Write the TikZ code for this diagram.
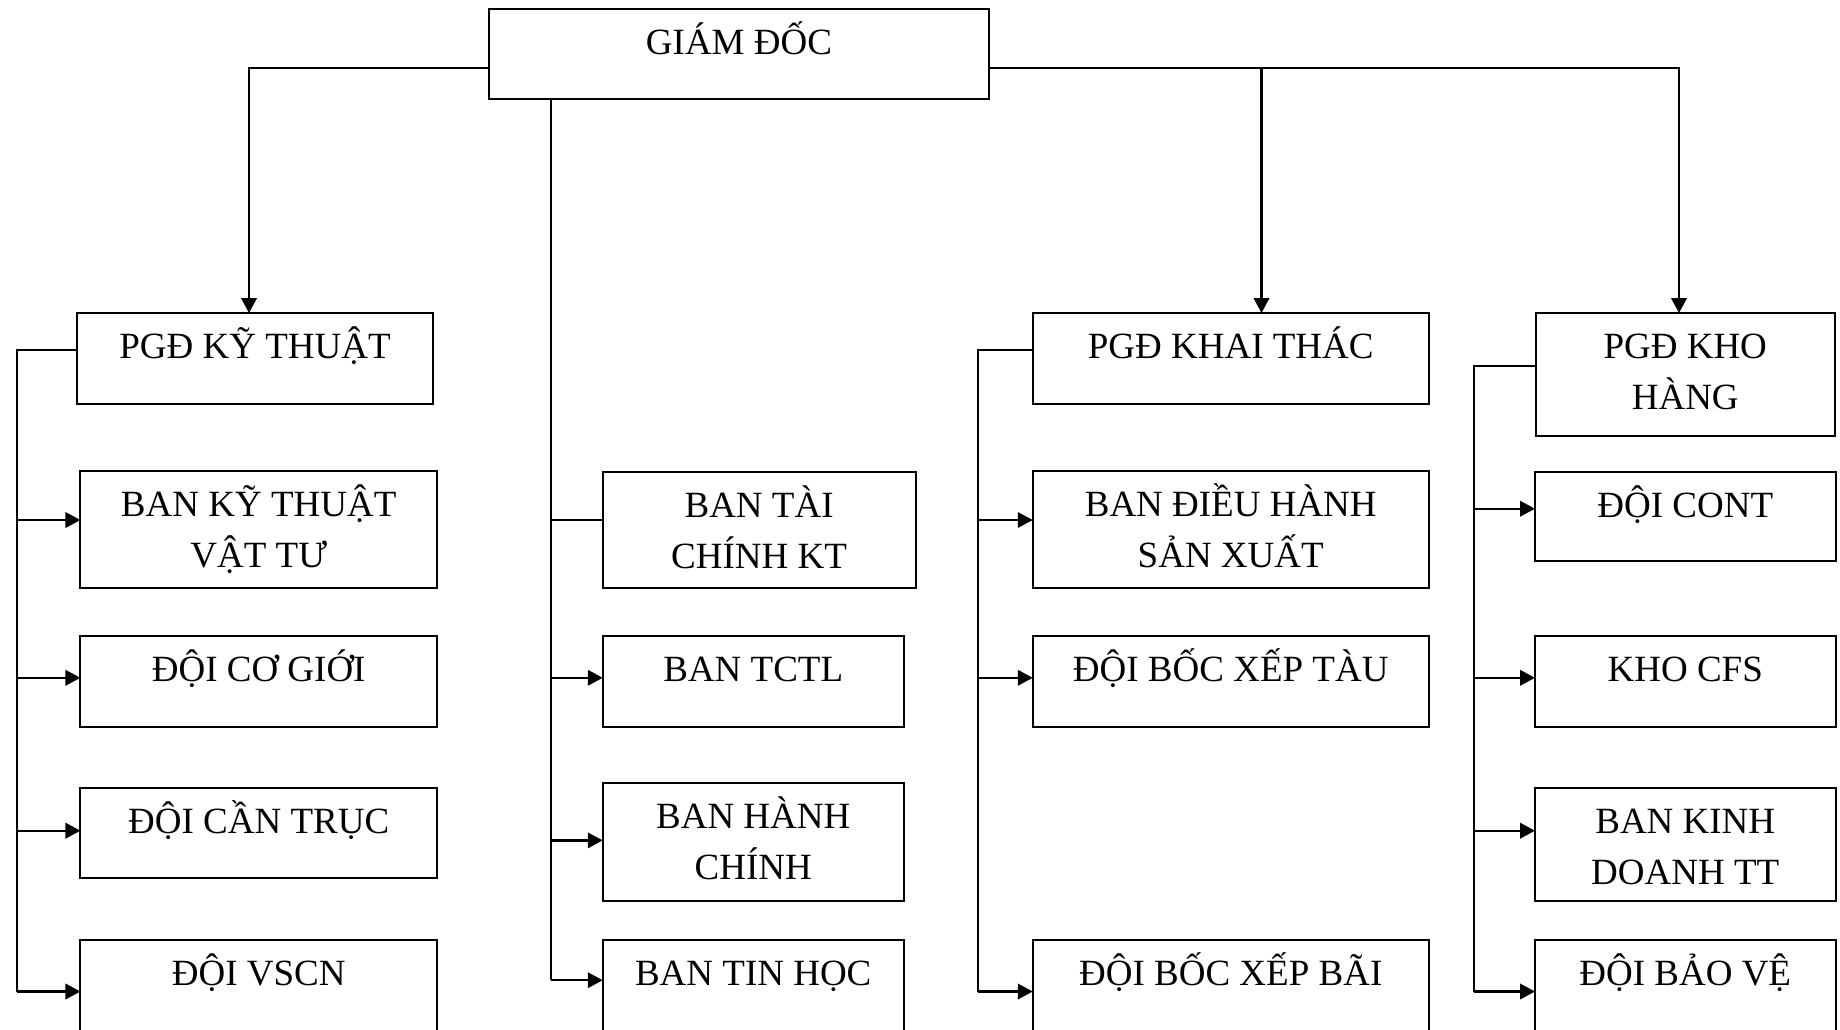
\documentclass[tikz,border=0pt]{standalone}
\usepackage{fontspec}
\setmainfont{Liberation Serif}
\usetikzlibrary{arrows.meta,calc}
\newcommand\twoline[2]{\begin{tabular}[t]{@{}c@{}}#1\\#2\end{tabular}}
\begin{document}
\begin{tikzpicture}[x=1pt,y=-1pt,
  box/.style={draw, line width=2pt, rectangle, inner sep=0pt, outer sep=0pt},
  lbl/.style={anchor=base, inner sep=0pt, font=\fontsize{37}{51}\selectfont},
  link/.style={line width=2pt},
  arr/.style={line width=2.3pt, -{Triangle[length=15pt,width=15.5pt]}}]
\useasboundingbox (0,0) rectangle (1840,1029);
\fill[white] (0,0) rectangle (1840,1029);
\clip (0,0) rectangle (1840,1029);

% top level
\node[box, minimum width=500pt, minimum height=90pt] (gd) at (739,54) {};
\node[lbl] (gdT) at ([yshift=-45.5pt]gd.north) {GIÁM ĐỐC};

\node[box, minimum width=356pt, minimum height=91pt] (pkt) at (255,358.5) {};
\node[lbl] (pktT) at ([yshift=-45.5pt]pkt.north) {PGĐ KỸ THUẬT};
\node[box, minimum width=396.5pt, minimum height=91pt] (pkh) at (1230.75,358.5) {};
\node[lbl] (pkhT) at ([yshift=-45.5pt]pkh.north) {PGĐ KHAI THÁC};
\node[box, minimum width=299.5pt, minimum height=122.7pt] (pkho) at (1685.25,374.35) {};
\node[lbl] (pkhoT) at ([yshift=-45.5pt]pkho.north) {\twoline{PGĐ KHO}{HÀNG}};

% left column
\node[box, minimum width=356.6pt, minimum height=116.4pt] (b1) at (258.7,529.4) {};
\node[lbl] (b1T) at ([yshift=-45.5pt]b1.north) {\twoline{BAN KỸ THUẬT}{VẬT TƯ}};
\node[box, minimum width=356.6pt, minimum height=90.6pt] (b2) at (258.7,681.3) {};
\node[lbl] (b2T) at ([yshift=-45.5pt]b2.north) {ĐỘI CƠ GIỚI};
\node[box, minimum width=356.6pt, minimum height=90pt] (b3) at (258.7,833) {};
\node[lbl] (b3T) at ([yshift=-45.5pt]b3.north) {ĐỘI CẦN TRỤC};
\node[box, minimum width=356.6pt, minimum height=92pt] (b4) at (258.7,986.4) {};
\node[lbl] (b4T) at ([yshift=-45.5pt]b4.north) {ĐỘI VSCN};

% middle column
\node[box, minimum width=312.8pt, minimum height=116pt] (m1) at (759.1,529.6) {};
\node[lbl] (m1T) at ([yshift=-45.5pt]m1.north) {\twoline{BAN TÀI}{CHÍNH KT}};
\node[box, minimum width=301pt, minimum height=90.6pt] (m2) at (753.25,681.3) {};
\node[lbl] (m2T) at ([yshift=-45.5pt]m2.north) {BAN TCTL};
\node[box, minimum width=301pt, minimum height=117.7pt] (m3) at (753.25,842.15) {};
\node[lbl] (m3T) at ([yshift=-45.5pt]m3.north) {\twoline{BAN HÀNH}{CHÍNH}};
\node[box, minimum width=301pt, minimum height=92pt] (m4) at (753.25,986.4) {};
\node[lbl] (m4T) at ([yshift=-45.5pt]m4.north) {BAN TIN HỌC};

% khai thac column
\node[box, minimum width=396pt, minimum height=116.4pt] (k1) at (1230.75,529.4) {};
\node[lbl] (k1T) at ([yshift=-45.5pt]k1.north) {\twoline{BAN ĐIỀU HÀNH}{SẢN XUẤT}};
\node[box, minimum width=396pt, minimum height=90.6pt] (k2) at (1230.75,681.3) {};
\node[lbl] (k2T) at ([yshift=-45.5pt]k2.north) {ĐỘI BỐC XẾP TÀU};
\node[box, minimum width=396pt, minimum height=92pt] (k3) at (1230.75,986.4) {};
\node[lbl] (k3T) at ([yshift=-45.5pt]k3.north) {ĐỘI BỐC XẾP BÃI};

% kho column
\node[box, minimum width=300.5pt, minimum height=89.7pt] (h1) at (1685.25,516.45) {};
\node[lbl] (h1T) at ([yshift=-45.5pt]h1.north) {ĐỘI CONT};
\node[box, minimum width=300.5pt, minimum height=90.6pt] (h2) at (1685.25,681.3) {};
\node[lbl] (h2T) at ([yshift=-45.5pt]h2.north) {KHO CFS};
\node[box, minimum width=300.5pt, minimum height=112.8pt] (h3) at (1685.25,844.6) {};
\node[lbl] (h3T) at ([yshift=-45.5pt]h3.north) {\twoline{BAN KINH}{DOANH TT}};
\node[box, minimum width=300.5pt, minimum height=92pt] (h4) at (1685.25,986.4) {};
\node[lbl] (h4T) at ([yshift=-45.5pt]h4.north) {ĐỘI BẢO VỆ};

% helper coordinates
\coordinate (r1) at (0,520);
\coordinate (r1h) at (0,508.7);
\coordinate (r2) at (0,677.8);
\coordinate (r3) at (0,830.7);
\coordinate (r3m) at (0,840.4);
\coordinate (r4) at (0,991.5);
\coordinate (r4m) at (0,980.2);
\coordinate (xl) at (16.5,0);
\coordinate (xm) at (550.5,0);
\coordinate (xk) at (978.3,0);
\coordinate (xh) at (1473.5,0);

% top connectors
\coordinate (busL) at ([yshift=-13.7pt]gd.west);
\coordinate (busR) at ([yshift=-13.7pt]gd.east);
\coordinate (ax1) at ([xshift=-6pt]pkt.north);
\coordinate (ax3) at ([xshift=30.75pt]pkh.north);
\coordinate (ax4) at ([xshift=-6.25pt]pkho.north);
\draw[arr] (busL) -| (ax1);
\draw[arr] (busR) -| (ax4);
\draw[arr] (busR -| ax3) -- (ax3);

% left branch
\draw[link] ([yshift=8.5pt]pkt.west) -| (xl |- r4);
\draw[arr] (xl |- r1) -- (b1.west |- r1);
\draw[arr] (xl |- r2) -- (b2.west |- r2);
\draw[arr] (xl |- r3) -- (b3.west |- r3);
\draw[arr] (xl |- r4) -- (b4.west |- r4);

% middle branch
\draw[link] (gd.south -| xm) -- (xm |- r4m);
\draw[link] (xm |- r1) -- (m1.west |- r1);
\draw[arr] (xm |- r2) -- (m2.west |- r2);
\draw[arr] (xm |- r3m) -- (m3.west |- r3m);
\draw[arr] (xm |- r4m) -- (m4.west |- r4m);

% khai thac branch
\draw[link] ([yshift=8.5pt]pkh.west) -| (xk |- r4);
\draw[arr] (xk |- r1) -- (k1.west |- r1);
\draw[arr] (xk |- r2) -- (k2.west |- r2);
\draw[arr] (xk |- r4) -- (k3.west |- r4);

% kho branch
\draw[link] ([yshift=8.65pt]pkho.west) -| (xh |- r4);
\draw[arr] (xh |- r1h) -- (h1.west |- r1h);
\draw[arr] (xh |- r2) -- (h2.west |- r2);
\draw[arr] (xh |- r3) -- (h3.west |- r3);
\draw[arr] (xh |- r4) -- (h4.west |- r4);
\end{tikzpicture}
\end{document}
